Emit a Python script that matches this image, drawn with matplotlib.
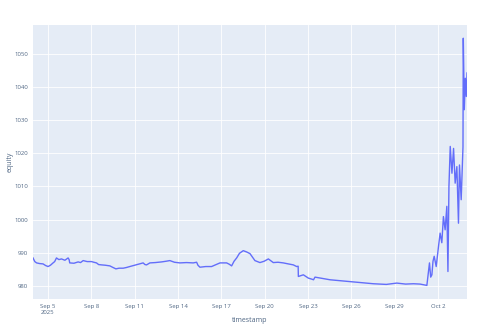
import pandas as pd
import matplotlib.pyplot as plt

plt.rcParams['font.family'] = ['Open Sans', 'DejaVu Sans']

# equity curve, values
timestamps = [
    "2025-09-03 23:00", "2025-09-04 02:00", "2025-09-04 05:00", "2025-09-04 10:00",
    "2025-09-04 15:40", "2025-09-04 20:00", "2025-09-05 00:00", "2025-09-05 04:00",
    "2025-09-05 08:20", "2025-09-05 11:00", "2025-09-05 14:00", "2025-09-05 18:00",
    "2025-09-05 22:20", "2025-09-06 04:00", "2025-09-06 09:20", "2025-09-06 11:00",
    "2025-09-06 12:00", "2025-09-06 19:00", "2025-09-07 02:00", "2025-09-07 06:00",
    "2025-09-07 10:20", "2025-09-07 17:00", "2025-09-08 00:10", "2025-09-08 04:00",
    "2025-09-08 08:30", "2025-09-08 12:00", "2025-09-08 16:50", "2025-09-08 23:00",
    "2025-09-09 06:40", "2025-09-09 11:00", "2025-09-09 16:40", "2025-09-09 22:00",
    "2025-09-10 04:50", "2025-09-10 10:00", "2025-09-10 15:50", "2025-09-11 14:00",
    "2025-09-11 17:00", "2025-09-11 19:40", "2025-09-12 01:10", "2025-09-12 10:00",
    "2025-09-12 20:40", "2025-09-13 04:00", "2025-09-13 10:20", "2025-09-13 18:00",
    "2025-09-14 03:00", "2025-09-14 14:00", "2025-09-15 01:10", "2025-09-15 06:50",
    "2025-09-15 09:00", "2025-09-15 12:20", "2025-09-15 22:00", "2025-09-16 07:40",
    "2025-09-16 14:00", "2025-09-16 21:40", "2025-09-17 08:40", "2025-09-17 13:00",
    "2025-09-17 17:00", "2025-09-17 21:00", "2025-09-18 01:20", "2025-09-18 06:00",
    "2025-09-18 12:20", "2025-09-18 18:00", "2025-09-18 23:30", "2025-09-19 07:40",
    "2025-09-19 16:00", "2025-09-19 23:00", "2025-09-20 06:00", "2025-09-20 14:10",
    "2025-09-20 22:00", "2025-09-21 06:50", "2025-09-21 15:00", "2025-09-21 23:30",
    "2025-09-22 05:00", "2025-09-22 07:30", "2025-09-22 07:50", "2025-09-22 16:10",
    "2025-09-23 00:30", "2025-09-23 06:00", "2025-09-23 09:00", "2025-09-23 11:30",
    "2025-09-24 12:30", "2025-09-27 12:30", "2025-09-28 10:00", "2025-09-29 03:20",
    "2025-09-29 18:00", "2025-09-30 07:00", "2025-09-30 18:00", "2025-10-01 05:20",
    "2025-10-01 09:40", "2025-10-01 11:40", "2025-10-01 13:40", "2025-10-01 15:30",
    "2025-10-01 17:30", "2025-10-01 20:50", "2025-10-02 00:40", "2025-10-02 03:20",
    "2025-10-02 06:10", "2025-10-02 08:50", "2025-10-02 11:40", "2025-10-02 14:30",
    "2025-10-02 16:20", "2025-10-02 18:00", "2025-10-02 20:10", "2025-10-02 23:00",
    "2025-10-03 01:40", "2025-10-03 04:20", "2025-10-03 07:10", "2025-10-03 09:50",
    "2025-10-03 11:30", "2025-10-03 14:20", "2025-10-03 17:20", "2025-10-03 17:50",
    "2025-10-03 19:30", "2025-10-03 21:10", "2025-10-03 22:50", "2025-10-04 00:00",
]
equity = [
    988.4, 987.3, 986.9, 986.7,
    986.6, 986.1, 985.8, 986.2,
    986.9, 987.3, 988.4, 987.9,
    988.1, 987.7, 988.4, 987.9,
    986.9, 986.8, 987.2, 987.0,
    987.6, 987.3, 987.3, 987.1,
    986.9, 986.4, 986.3, 986.2,
    986.0, 985.6, 985.1, 985.3,
    985.3, 985.5, 985.8, 986.9,
    986.4, 986.3, 986.9, 987.0,
    987.2, 987.4, 987.6, 987.1,
    986.9, 987.0, 986.9, 987.1,
    986.2, 985.6, 985.8, 985.8,
    986.3, 986.9, 986.9, 986.5,
    986.0, 987.4, 988.4, 989.8,
    990.6, 990.2, 989.7, 987.6,
    987.0, 987.4, 988.1, 987.0,
    987.1, 986.9, 986.6, 986.3,
    985.8, 985.9, 982.8, 983.3,
    982.3, 982.0, 981.8, 982.6,
    981.8, 980.6, 980.4, 980.8,
    980.5, 980.6, 980.5, 980.1,
    986.9, 982.6, 983.3, 987.4,
    988.9, 985.8, 991.9, 995.9,
    993.0, 1000.9, 996.9, 1004.0,
    984.3, 1010.0, 1022.1, 1014.0,
    1021.5, 1011.0, 1016.0, 998.9,
    1016.5, 1006.0, 1022.0, 1054.8,
    1033.2, 1042.7, 1037.2, 1044.3,
]

ts = pd.to_datetime(timestamps)

fig = plt.figure(figsize=(5, 3.33), dpi=100)
ax = fig.add_axes([33 / 500, (333 - 299.3) / 333, 434 / 500, 274.3 / 333])
ax.set_facecolor('#E5ECF6')
ax.plot(ts, equity, color='#636EFA', linewidth=1.0)

ax.set_xlim(ts[0], ts[-1])
ax.set_ylim(975.9, 1058.8)
ax.set_yticks(range(980, 1051, 10))

tick_days = pd.date_range('2025-09-05', '2025-10-02', freq='3D')
ax.set_xticks(tick_days)
tick_labels = [d.strftime('%b %-d') for d in tick_days]
tick_labels[0] = 'Sep 5\n2025'
ax.set_xticklabels(tick_labels, linespacing=1.1)

ax.grid(True, color='white', linewidth=0.6)
ax.set_axisbelow(True)
for s in ax.spines.values():
    s.set_visible(False)
ax.tick_params(length=0, labelsize=4.3, labelcolor='#506784', pad=3.5)

# axis titles placed where the reference has them
fig.text(250 / 500, 1 - 321 / 333, 'timestamp', fontsize=5, color='#506784',
         ha='center', va='center')
fig.text(10 / 500, 1 - 162 / 333, 'equity', fontsize=5, color='#506784',
         ha='center', va='center', rotation=90)

fig.savefig('out.png', dpi=100)
